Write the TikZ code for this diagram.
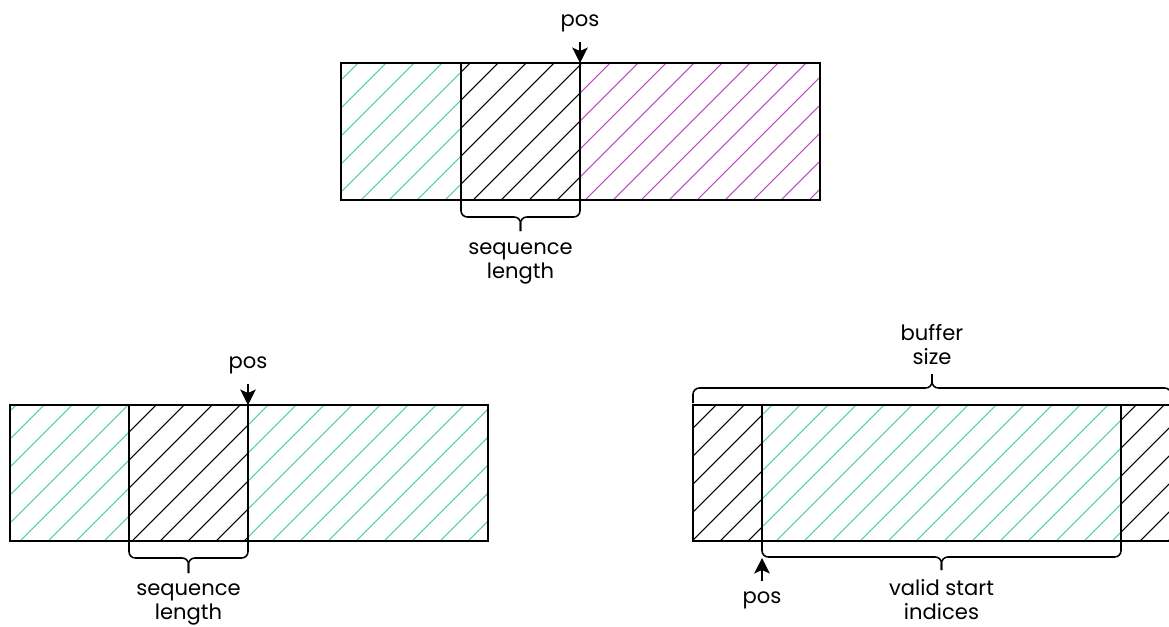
\documentclass[tikz,border=0pt]{standalone}
\usepackage{fontspec}
\setmainfont{Poppins}
\usepackage{tikz}
\usetikzlibrary{arrows.meta,calc}
\definecolor{bufgreen}{HTML}{52CFA8}
\definecolor{bufpink}{HTML}{BE4DBE}

\tikzset{
  frame/.style={draw=black, line width=1.4pt},
  hatchline/.style={line width=0.75pt},
  brace/.style={draw=black, line width=1.1pt, rounded corners=4.5pt},
  posarrow/.style={-{Stealth[length=11pt,width=11pt,inset=2.5pt]}, line width=1.1pt, shorten <=7pt},
  lbl/.style={font=\fontsize{15}{17}\selectfont, align=center, inner sep=0pt},
}

% diagonal hatching inside a box: x1,y1,x2,y2,colour
\newcommand{\hatchbox}[5]{%
  \begin{scope}
    \clip (#1,#2) rectangle (#3,#4);
    \foreach \c in {1,29,...,1850}
      \draw[hatchline,#5] (\c,0) -- ++(-700,700);
  \end{scope}}

\begin{document}
\begin{tikzpicture}[x=0.025cm, y=-0.025cm]
\useasboundingbox (0,0) rectangle (1169,626);
\clip (0,0) rectangle (1169,626);

% buffer, upper
\hatchbox{341}{63}{461}{200}{bufgreen}
\hatchbox{461}{63}{580}{200}{black}
\hatchbox{580}{63}{820}{200}{bufpink}
\draw[frame] (341,63) rectangle (820,200);
\draw[frame] (461,63) -- (461,200);
\draw[frame] (580,63) -- (580,200);
\coordinate (t seq l) at (461,200);
\coordinate (t seq r) at (580,200);
\coordinate (t pos) at (580,63);
\node[lbl, anchor=base] (t pos lbl) at (580,26) {pos};
\draw[posarrow] (t pos lbl) -- (t pos);
\draw[brace] (t seq l) |- (520.5,217) -- (520.5,231) coordinate (t tip);
\draw[brace] (t seq r) |- (520.5,217) -- (t tip);
\node[lbl, anchor=base] (t seq lbl) at (520.5,278) {sequence\\length};

% buffer, lower left
\hatchbox{10}{405}{129}{541}{bufgreen}
\hatchbox{129}{405}{248}{541}{black}
\hatchbox{248}{405}{488}{541}{bufgreen}
\draw[frame] (10,405) rectangle (488,541);
\draw[frame] (129,405) -- (129,541);
\draw[frame] (248,405) -- (248,541);
\coordinate (l seq l) at (129,541);
\coordinate (l seq r) at (248,541);
\coordinate (l pos) at (248,405);
\node[lbl, anchor=base] (l pos lbl) at (248,368) {pos};
\draw[posarrow] (l pos lbl) -- (l pos);
\draw[brace] (l seq l) |- (188.5,558) -- (188.5,573) coordinate (l tip);
\draw[brace] (l seq r) |- (188.5,558) -- (l tip);
\node[lbl, anchor=base] (l seq lbl) at (188.5,619) {sequence\\length};

% buffer, lower right
\hatchbox{693}{405}{762}{541}{black}
\hatchbox{762}{405}{1121}{541}{bufgreen}
\hatchbox{1121}{405}{1172}{541}{black}
\draw[frame] (693,405) rectangle (1172,541);
\draw[frame] (762,405) -- (762,541);
\draw[frame] (1121,405) -- (1121,541);
\coordinate (r buf l) at (693,403);
\coordinate (r buf r) at (1171,403);
\coordinate (r val l) at (762,541);
\coordinate (r val r) at (1121,541);
\coordinate (r pos) at (762,558);
\draw[brace] (r buf l) |- (932,388) -- (932,374) coordinate (r top tip);
\draw[brace] (r buf r) |- (932,388) -- (r top tip);
\node[lbl, anchor=base] (r buf lbl) at (932,364) {buffer\\size};
\draw[brace] (r val l) |- (941.5,557) -- (941.5,570) coordinate (r tip);
\draw[brace] (r val r) |- (941.5,557) -- (r tip);
\node[lbl, anchor=base] (r val lbl) at (941.5,619) {valid start\\indices};
\node[lbl, anchor=base] (r pos lbl) at (762,603) {pos};
\draw[posarrow] (r pos lbl) -- (r pos);
\end{tikzpicture}
\end{document}
